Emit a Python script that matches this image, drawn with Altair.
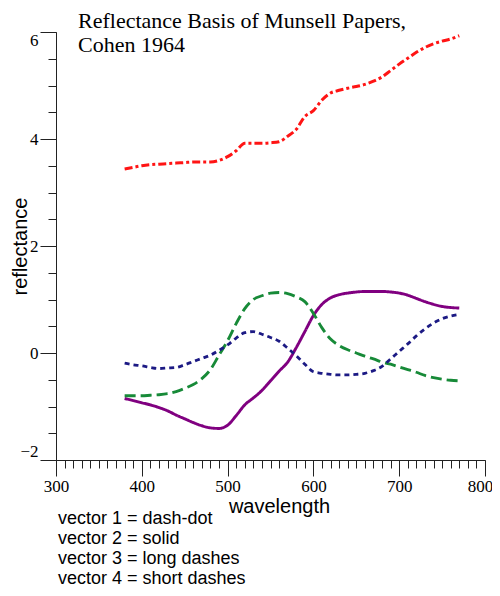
import altair as alt
import pandas as pd

wavelength = list(range(380, 780, 10))

vector1 = [3.44, 3.47, 3.50, 3.52, 3.53, 3.54, 3.55, 3.56, 3.57, 3.57,
           3.57, 3.60, 3.67, 3.78, 3.92, 3.92, 3.92, 3.93, 3.95, 4.05,
           4.18, 4.42, 4.53, 4.73, 4.86, 4.91, 4.95, 4.98, 5.02, 5.08,
           5.16, 5.28, 5.40, 5.51, 5.62, 5.71, 5.78, 5.83, 5.87, 5.93]
vector2 = [-0.85, -0.89, -0.93, -0.97, -1.02, -1.08, -1.16, -1.23, -1.30, -1.36,
           -1.40, -1.41, -1.35, -1.17, -0.97, -0.84, -0.70, -0.52, -0.34, -0.17,
           0.10, 0.40, 0.70, 0.91, 1.03, 1.09, 1.12, 1.14, 1.15, 1.15,
           1.15, 1.14, 1.12, 1.08, 1.02, 0.96, 0.91, 0.87, 0.85, 0.84]
vector3 = [-0.80, -0.80, -0.80, -0.79, -0.78, -0.76, -0.72, -0.66, -0.59, -0.48,
           -0.31, -0.04, 0.23, 0.55, 0.83, 1.00, 1.07, 1.12, 1.13, 1.11,
           1.05, 0.96, 0.74, 0.47, 0.26, 0.14, 0.06, 0.00, -0.06, -0.11,
           -0.17, -0.21, -0.26, -0.31, -0.36, -0.42, -0.46, -0.49, -0.51, -0.52]
vector4 = [-0.19, -0.22, -0.24, -0.27, -0.29, -0.28, -0.27, -0.22, -0.16, -0.10,
           -0.04, 0.05, 0.15, 0.28, 0.38, 0.40, 0.35, 0.29, 0.22, 0.09,
           -0.05, -0.21, -0.35, -0.38, -0.40, -0.41, -0.41, -0.40, -0.38, -0.33,
           -0.25, -0.11, 0.03, 0.17, 0.32, 0.45, 0.56, 0.64, 0.69, 0.72]

series_names = ["vector 1", "vector 2", "vector 3", "vector 4"]
series_colors = ["#ff1414", "#800080", "#178a38", "#1c1a84"]
series_dash = [[8, 3, 3, 3], [1, 0], [11, 5], [5, 4]]
series_width = [3, 2.8, 3, 2]

title_lines = ["Reflectance Basis of Munsell Papers,", "Cohen 1964"]
legend_lines = ["vector 1 = dash-dot", "vector 2 = solid",
                "vector 3 = long dashes", "vector 4 = short dashes"]

x_major = [300, 400, 500, 600, 700, 800]
x_minor = list(range(300, 810, 10))
y_major = [-2, 0, 2, 4, 6]
y_minor = [v / 2 for v in range(-4, 13)]

rows = []
for name, vals in zip(series_names, [vector1, vector2, vector3, vector4]):
    for w, v in zip(wavelength, vals):
        rows.append({"series": name, "wavelength": w, "reflectance": v})
df = pd.DataFrame(rows)

xscale = alt.Scale(domain=[300, 800], nice=False, zero=False)
yscale = alt.Scale(domain=[-2, 6], nice=False, zero=False)

axis_common = dict(grid=False, domainColor="#222", tickColor="#222",
                   domainWidth=1, tickWidth=1, labelColor="black",
                   labelFont="Liberation Serif", labelFontSize=17,
                   titleFont="Liberation Sans", titleFontSize=20,
                   titleFontWeight="normal", titleColor="black")

lines = alt.Chart(df).mark_line(interpolate="monotone").encode(
    x=alt.X("wavelength:Q", scale=xscale,
            axis=alt.Axis(values=x_major, tickSize=16, labelPadding=2,
                          labelFlush=False,
                          labelOffset=alt.condition("datum.value == 800", alt.value(-5), alt.value(0)),
                          title="wavelength", titlePadding=2, titleX=223,
                          orient="bottom", **axis_common)),
    y=alt.Y("reflectance:Q", scale=yscale,
            axis=alt.Axis(values=y_major, tickSize=16, labelPadding=2,
                          labelFlush=True, labelFlushOffset=0,
                          title="reflectance", titleX=-30, titleY=214,
                          titleAngle=270, titleAlign="center",
                          titleBaseline="alphabetic",
                          orient="left", **axis_common)),
    color=alt.Color("series:N", scale=alt.Scale(domain=series_names, range=series_colors), legend=None),
    strokeDash=alt.StrokeDash("series:N", scale=alt.Scale(domain=series_names, range=series_dash), legend=None),
    strokeWidth=alt.StrokeWidth("series:N", scale=alt.Scale(domain=series_names, range=series_width), legend=None),
    detail="series:N",
)

minor = alt.Chart(df).mark_line(strokeOpacity=0).encode(
    x=alt.X("wavelength:Q", scale=xscale,
            axis=alt.Axis(values=x_minor, tickSize=8, labels=False, domain=False,
                          title=None, grid=False, tickColor="#222", orient="bottom")),
    y=alt.Y("reflectance:Q", scale=yscale,
            axis=alt.Axis(values=y_minor, tickSize=8, labels=False, domain=False,
                          title=None, grid=False, tickColor="#222", orient="left")),
    detail="series:N",
)

title1 = alt.Chart(alt.Data(values=[{"t": title_lines[0]}])).mark_text(
    align="left", baseline="alphabetic", font="Liberation Serif", fontSize=22, color="black"
).encode(x=alt.value(22), y=alt.value(-4.5), text="t:N")
title2 = alt.Chart(alt.Data(values=[{"t": title_lines[1]}])).mark_text(
    align="left", baseline="alphabetic", font="Liberation Serif", fontSize=22, color="black"
).encode(x=alt.value(22), y=alt.value(20), text="t:N")

leg_layers = []
for i, txt in enumerate(legend_lines):
    leg_layers.append(
        alt.Chart(alt.Data(values=[{"t": txt}])).mark_text(
            align="left", baseline="alphabetic", font="Liberation Sans", fontSize=18, color="black"
        ).encode(x=alt.value(2), y=alt.value(492 + i * 20), text="t:N")
    )

chart = alt.layer(minor, lines, title1, title2, *leg_layers).resolve_axis(
    x="independent", y="independent"
).properties(
    width=429, height=428,
    autosize=alt.AutoSizeParams(type="none"),
    padding={"left": 48, "top": 24, "right": 7, "bottom": 128},
).configure_view(stroke=None)

chart.save("out.html", embed_options={"renderer": "svg", "actions": False})
